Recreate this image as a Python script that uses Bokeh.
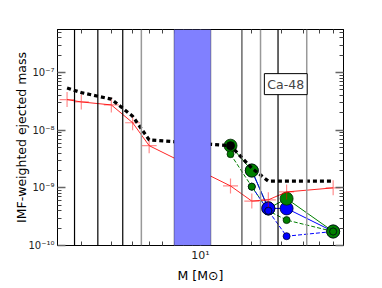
from bokeh.plotting import figure
from bokeh.models import (Range1d, FixedTicker, CustomJSTickFormatter, LogAxis, Span,
                          BoxAnnotation, Label)
from bokeh.embed import file_html
from bokeh.resources import INLINE

# ---------------- data ----------------
masses_all = [1.65, 2, 3, 4, 5, 15, 20, 25, 32, 60]
total_yield = [5.4e-8, 4.5e-8, 3.47e-8, 1.75e-8, 6.8e-9, 5.4e-9, 2.2e-9, 1.31e-9, 1.31e-9, 1.31e-9]
red_yield = [3.4e-8, 3.1e-8, 2.75e-8, 1.35e-8, 5.4e-9, 1.08e-9, 5.9e-10, 6.2e-10, 8.5e-10, 1.0e-9]

masses_green = [15, 20, 25, 32, 60]
green_big = [5.4e-9, 2.0e-9, 4.4e-10, 6.5e-10, 1.75e-10]
green_small = [3.85e-9, 1.05e-9, 4.0e-10, 2.76e-10, 1.75e-10]

masses_blue = [20, 25, 32, 60]
blue_big = [2.0e-9, 4.4e-10, 4.4e-10, 1.75e-10]
blue_small = [1.05e-9, 4.0e-10, 1.45e-10, 1.75e-10]
blue_on_top_mass = [25]

marker15_mass = [15]
marker15_val = [5.4e-9]

boundaries = [1.825, 2.5, 3.5, 4.5, 17.5, 22.5, 28.5, 42]
boundary_colors = ["black", "black", "black", "#999999", "#444444", "#999999", "black", "#999999"]
band_range = [7.0, 11.5]

x_major = [10]
x_minor = [2, 3, 4, 5, 6, 7, 8, 9, 20, 30, 40, 50, 60]
y_major = [1e-10, 1e-9, 1e-8, 1e-7]
y_minor = [k * 10.0 ** e for e in range(-10, -6) for k in range(2, 10)]

label_text = "Ca-48"
xlabel = "M [M\u2299]"
ylabel = "IMF-weighted ejected mass"

FONT = "DejaVu Sans"

p = figure(frame_width=286, frame_height=216, x_axis_type="log", y_axis_type="log",
           x_range=Range1d(1.45, 69), y_range=Range1d(1e-10, 5.6e-7),
           output_backend="svg", toolbar_location=None,
           min_border_left=57, min_border_right=23, min_border_top=29, min_border_bottom=36)
p.xgrid.visible = False
p.ygrid.visible = False
p.outline_line_color = "black"
p.background_fill_color = "white"
p.border_fill_color = "white"

sup = CustomJSTickFormatter(code="""
const m = {'-':'\u207b','0':'\u2070','1':'\u00b9','2':'\u00b2','3':'\u00b3','4':'\u2074','5':'\u2075','6':'\u2076','7':'\u2077','8':'\u2078','9':'\u2079'};
const e = Math.round(Math.log10(tick)).toString();
let s = '';
for (const c of e) { s += m[c]; }
return '10' + s;
""")
blank = CustomJSTickFormatter(code="return '';")

xt = FixedTicker(ticks=x_major, minor_ticks=x_minor)
yt = FixedTicker(ticks=y_major, minor_ticks=y_minor)

def style_axis(ax):
    ax.major_tick_in = 8
    ax.major_tick_out = 0
    ax.minor_tick_in = 4
    ax.minor_tick_out = 0
    ax.major_tick_line_color = "#666666"
    ax.major_tick_line_width = 1.5
    ax.minor_tick_line_color = "#444444"
    ax.axis_line_color = "black"
    ax.major_label_text_font = FONT
    ax.major_label_text_font_size = "11px"
    ax.major_label_text_color = "#222222"
    ax.axis_label_text_font = FONT
    ax.axis_label_text_font_size = "12.5px"
    ax.axis_label_text_font_style = "normal"
    ax.axis_label_text_color = "black"

p.xaxis.ticker = xt
p.yaxis.ticker = yt
p.xaxis.formatter = sup
p.yaxis.formatter = sup
p.xaxis.axis_label = xlabel
p.yaxis.axis_label = ylabel
style_axis(p.xaxis[0])
style_axis(p.yaxis[0])
p.yaxis.major_label_text_font_size = "10px"
p.xaxis.major_label_standoff = 3
p.yaxis.major_label_standoff = 3
p.xaxis.axis_label_standoff = 3
p.yaxis.axis_label_standoff = -4

top_ax = LogAxis(ticker=xt, formatter=blank)
right_ax = LogAxis(ticker=yt, formatter=blank)
style_axis(top_ax)
style_axis(right_ax)
top_ax.major_label_standoff = 0
right_ax.major_label_standoff = 0
p.add_layout(top_ax, "above")
p.add_layout(right_ax, "right")

# vertical boundaries
for xb, c in zip(boundaries, boundary_colors):
    p.add_layout(Span(location=xb, dimension="height", line_color=c,
                      line_width=1.5 if c == "#999999" else 1.2))
p.add_layout(BoxAnnotation(left=band_range[0], right=band_range[1], fill_color="#8080ff",
                           fill_alpha=1.0, line_color="black", line_width=1.2))

# green / blue lines
p.line(masses_green, green_big, line_color="green", line_width=1)
p.line(masses_green, green_small, line_color="green", line_width=1, line_dash="4 2")
p.line(masses_blue, blue_big, line_color="blue", line_width=1)
p.line(masses_blue, blue_small, line_color="blue", line_width=1, line_dash="4 2")

# big markers
p.scatter(masses_blue, blue_big, size=13, fill_color="blue", line_color="#000033", line_width=0.8)
p.scatter(masses_green, green_big, size=13, fill_color="green", line_color="#002200", line_width=0.8)
bt = [(m, v) for m, v in zip(masses_blue, blue_big) if m in blue_on_top_mass]
p.scatter([m for m, _ in bt], [v for _, v in bt], size=13, fill_color="blue",
          line_color="#000033", line_width=0.8)
# small markers
p.scatter(masses_blue, blue_small, size=7, fill_color="blue", line_color="#000033", line_width=0.8)
p.scatter(masses_green, green_small, size=7, fill_color="green", line_color="#002200", line_width=0.8)
bs = [(m, v) for m, v in zip(masses_blue, blue_small) if m in blue_on_top_mass]
p.scatter([m for m, _ in bs], [v for _, v in bs], size=7, fill_color="blue",
          line_color="#000033", line_width=0.8)

# red
p.line(masses_all, red_yield, line_color="red", line_width=1, line_alpha=0.85)
p.scatter(masses_all, red_yield, marker="cross", size=15, line_color="red",
          line_alpha=0.45, line_width=1.2)

# black total
p.line(masses_all, total_yield, line_color="black", line_width=3.2, line_dash="4 3")
p.scatter(marker15_mass, marker15_val, size=8, fill_color="black", line_color="black")

p.add_layout(Label(x=23.7, y=9.6e-8, text=label_text, text_font=FONT, text_font_size="12.5px",
                   text_align="left", text_baseline="top", padding=3,
                   background_fill_color="white", border_line_color="black", border_line_width=1))

open("out.html", "w").write(file_html(p, INLINE))
